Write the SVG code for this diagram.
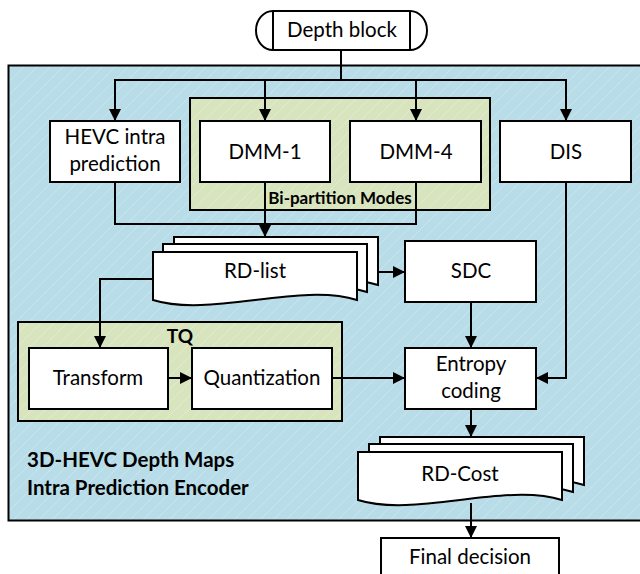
<svg xmlns="http://www.w3.org/2000/svg" width="640" height="574" viewBox="0 0 640 574">
<defs>
  <pattern id="hatchBlue" patternUnits="userSpaceOnUse" width="13" height="13">
    <rect width="13" height="13" fill="#b8dde8"/>
    <path d="M0,13 L13,0 M-2,2 L2,-2 M11,15 L15,11" stroke="#c9e6ee" stroke-width="1"/>
  </pattern>
  <pattern id="hatchGreen" patternUnits="userSpaceOnUse" width="13" height="13">
    <rect width="13" height="13" fill="#d7e4bd"/>
    <path d="M0,13 L13,0 M-2,2 L2,-2 M11,15 L15,11" stroke="#e1ebcd" stroke-width="1"/>
  </pattern>
  <marker id="arr" viewBox="0 0 12 12" refX="12" refY="6" markerWidth="12" markerHeight="12" markerUnits="userSpaceOnUse" orient="auto">
    <path d="M0,0 L12,6 L0,12 Z" fill="#000"/>
  </marker>
  <path id="docRD" d="M0,0 H204 V48 C147,30 57,66 0,48 Z"/>
</defs>
<style>
  .box { fill: #fff; stroke: #000; stroke-width: 2; }
  .grp { stroke: #000; stroke-width: 2; }
  .doc { fill: #fff; stroke: #000; stroke-width: 2; }
  .lbl { font-family: Lato, "Liberation Sans", sans-serif; font-size: 20.5px; fill: #000; text-anchor: middle; }
  .bold { font-family: Lato, "Liberation Sans", sans-serif; font-weight: bold; fill: #000; }
  .conn path { fill: none; stroke: #000; stroke-width: 2; }
</style>

<g id="encoder">
  <rect x="8.5" y="65.5" width="640" height="455" fill="url(#hatchBlue)" stroke="#000" stroke-width="2"/>
  <text class="bold" x="27" y="467" font-size="20.5">3D-HEVC Depth Maps</text>
  <text class="bold" x="27" y="495" font-size="20.5">Intra Prediction Encoder</text>
</g>

<g id="bipartition">
  <rect x="190" y="98" width="300" height="112" fill="url(#hatchGreen)" class="grp"/>
</g>

<g id="tq">
  <rect x="18" y="322" width="324" height="99" fill="url(#hatchGreen)" class="grp"/>
  <text class="bold" x="180" y="343" font-size="19" text-anchor="middle">TQ</text>
</g>

<g id="depth-block">
  <rect x="256" y="11" width="171" height="39" rx="17" ry="19.5" class="box"/>
  <path d="M273,11 V50 M410,11 V50" stroke="#000" stroke-width="2"/>
  <text class="lbl" x="342" y="37" font-size="21">Depth block</text>
</g>

<g id="hevc-intra">
  <rect x="50" y="121" width="130" height="61" class="box"/>
  <text class="lbl" x="115" y="144">HEVC intra</text>
  <text class="lbl" x="115" y="171">prediction</text>
</g>

<g id="dmm1">
  <rect x="200" y="121" width="130" height="61" class="box"/>
  <text class="lbl" x="265" y="159">DMM-1</text>
</g>

<g id="dmm4">
  <rect x="350" y="121" width="131" height="61" class="box"/>
  <text class="lbl" x="416" y="159">DMM-4</text>
</g>

<g id="dis">
  <rect x="500" y="121" width="131" height="61" class="box"/>
  <text class="lbl" x="566" y="159">DIS</text>
</g>

<g id="bipartition-label">
  <text class="bold" x="340" y="204" font-size="17" text-anchor="middle">Bi-partition Modes</text>
</g>

<g id="rd-list">
  <use href="#docRD" class="doc" x="174" y="237"/>
  <use href="#docRD" class="doc" x="163" y="244"/>
  <use href="#docRD" class="doc" x="153" y="252"/>
  <text class="lbl" x="255" y="278">RD-list</text>
</g>

<g id="sdc">
  <rect x="405" y="241" width="131" height="61" class="box"/>
  <text class="lbl" x="471" y="278">SDC</text>
</g>

<g id="transform">
  <rect x="29" y="348" width="139" height="61" class="box"/>
  <text class="lbl" x="98" y="385">Transform</text>
</g>

<g id="quantization">
  <rect x="192" y="348" width="140" height="61" class="box"/>
  <text class="lbl" x="262" y="385">Quantization</text>
</g>

<g id="entropy">
  <rect x="405" y="348" width="131" height="61" class="box"/>
  <text class="lbl" x="471" y="371">Entropy</text>
  <text class="lbl" x="471" y="398">coding</text>
</g>

<g id="rd-cost">
  <use href="#docRD" class="doc" x="380" y="437"/>
  <use href="#docRD" class="doc" x="369" y="444"/>
  <use href="#docRD" class="doc" x="358" y="452"/>
  <text class="lbl" x="460" y="481">RD-Cost</text>
</g>

<g id="final-decision">
  <rect x="381" y="538" width="178" height="45" class="box"/>
  <text class="lbl" x="470" y="564">Final decision</text>
</g>

<g id="connectors" class="conn">
  <path d="M341,50 V80"/>
  <path d="M341,80 H115 V121" marker-end="url(#arr)"/>
  <path d="M341,80 H566 V121" marker-end="url(#arr)"/>
  <path d="M265,80 V121" marker-end="url(#arr)"/>
  <path d="M416,80 V121" marker-end="url(#arr)"/>
  <path d="M115,182 V224 H416 V182"/>
  <path d="M265,182 V237" marker-end="url(#arr)"/>
  <path d="M378,272 H405" marker-end="url(#arr)"/>
  <path d="M153,279 H100 V348" marker-end="url(#arr)"/>
  <path d="M168,378 H192" marker-end="url(#arr)"/>
  <path d="M332,378 H405" marker-end="url(#arr)"/>
  <path d="M471,302 V348" marker-end="url(#arr)"/>
  <path d="M566,182 V378 H536" marker-end="url(#arr)"/>
  <path d="M471,409 V437" marker-end="url(#arr)"/>
  <path d="M471,503 V538" marker-end="url(#arr)"/>
</g>
</svg>
